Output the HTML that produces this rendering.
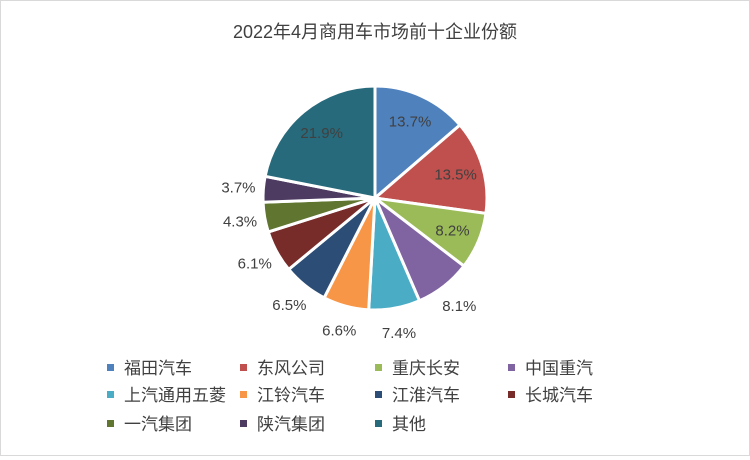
<!DOCTYPE html>
<html><head><meta charset="utf-8"><style>
body{margin:0;background:#fff;}
#c{position:relative;width:748px;height:454px;border:1px solid #d9d9d9;background:#fff;font-family:"Liberation Sans","Noto Sans CJK SC",sans-serif;}
</style></head><body>
<div id="c">
<svg id="s" width="748" height="454" xmlns="http://www.w3.org/2000/svg">
<text x="374" y="37" text-anchor="middle" font-size="18" fill="#404040" font-family="Liberation Sans, Noto Sans CJK SC, sans-serif">2022年4月商用车市场前十企业份额</text>
</svg>
</div>
<script>
const categories=["福田汽车","东风公司","重庆长安","中国重汽","上汽通用五菱","江铃汽车","江淮汽车","长城汽车","一汽集团","陕汽集团","其他"];
const values=[13.7,13.5,8.2,8.1,7.4,6.6,6.5,6.1,4.3,3.7,21.9];
const labels=["13.7%","13.5%","8.2%","8.1%","7.4%","6.6%","6.5%","6.1%","4.3%","3.7%","21.9%"];
const colors=["#4f81bd","#c0504d","#9bbb59","#8064a2","#4bacc6","#f79646","#2c4d75","#772c2a","#5f7530","#4d3b62","#276a7c"];
const svg=document.getElementById('s');
const NS="http://www.w3.org/2000/svg";
const cx=374,cy=197,R=112;
const total=values.reduce((a,b)=>a+b,0);
function pt(a,r){return [cx+Math.sin(a)*r, cy-Math.cos(a)*r];}
let cum=0;
values.forEach((v,i)=>{
  const a0=cum/total*2*Math.PI; cum+=v; const a1=cum/total*2*Math.PI;
  const p0=pt(a0,R),p1=pt(a1,R);
  const large=(a1-a0)>Math.PI?1:0;
  const path=document.createElementNS(NS,'path');
  path.setAttribute('d',`M${cx},${cy} L${p0[0]},${p0[1]} A${R},${R} 0 ${large} 1 ${p1[0]},${p1[1]} Z`);
  path.setAttribute('fill',colors[i]);
  path.setAttribute('stroke','#fff');
  path.setAttribute('stroke-width','3');
  
  
  svg.appendChild(path);
});
cum=0;
values.forEach((v,i)=>{
  const am=(cum+v/2)/total*2*Math.PI; cum+=v;
  const inside=v>=8.15;
  const p=pt(am,inside?84:137);
  const t=document.createElementNS(NS,'text');
  t.setAttribute('x',p[0]);t.setAttribute('y',p[1]+5);
  t.setAttribute('text-anchor','middle');t.setAttribute('font-size','15');
  t.setAttribute('fill','#404040');
  t.setAttribute('font-family','Liberation Sans, sans-serif');
  t.textContent=labels[i];
  
  
  svg.appendChild(t);
});
const colX=[106,239,374,507],rowY=[367,394,423];
categories.forEach((c,i)=>{
  const x=colX[i%4],y=rowY[Math.floor(i/4)];
  const g=document.createElementNS(NS,'g');
  
  
  const r=document.createElementNS(NS,'rect');
  r.setAttribute('x',x);r.setAttribute('y',y-4);r.setAttribute('width',7);r.setAttribute('height',7);
  r.setAttribute('fill',colors[i]);
  g.appendChild(r);
  const t=document.createElementNS(NS,'text');
  t.setAttribute('x',x+17);t.setAttribute('y',y+6);
  t.setAttribute('font-size','17');t.setAttribute('fill','#404040');
  t.setAttribute('font-family','Liberation Sans, Noto Sans CJK SC, sans-serif');
  t.textContent=c;
  g.appendChild(t);
  svg.appendChild(g);
});
</script>
</body></html>
